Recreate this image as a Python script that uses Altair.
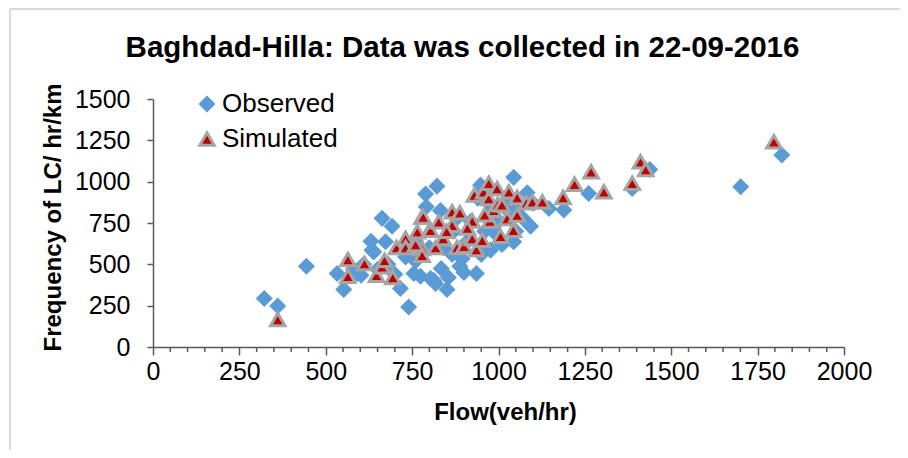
import altair as alt
import pandas as pd

series_names = ["Observed", "Simulated"]

obs_flow = [322, 361, 444, 533, 552, 591, 602, 631, 634, 639, 663, 673, 692, 716, 731,
            740, 755, 774, 760, 789, 791, 803, 812, 818, 822, 832, 834, 851, 866, 888,
            895, 910, 936, 948, 960, 977, 986, 1000, 1010, 1030, 1044, 1044, 1060, 1083,
            1093, 1100, 1146, 1189, 1261, 1387, 1438, 1701, 1820, 700, 720, 760, 800, 840,
            870, 900, 940, 980, 950, 1050, 650, 580, 610, 680, 855, 880, 920, 970, 1020, 1070]
obs_freq = [293, 248, 489, 444, 348, 444, 434, 640, 586, 575, 778, 636, 731, 354, 545,
            242, 444, 428, 520, 925, 848, 414, 404, 384, 973, 826, 475, 348, 560, 489,
            535, 640, 444, 979, 700, 586, 697, 760, 620, 820, 1026, 636, 850, 933,
            731, 870, 838, 828, 929, 959, 1074, 969, 1161, 440, 600, 640, 600, 600,
            700, 450, 900, 850, 560, 700, 470, 470, 500, 500, 420, 780, 760, 800, 880, 780]

sim_flow = [361, 564, 564, 612, 647, 663, 670, 694, 705, 731, 731, 765, 779, 779, 779,
            801, 818, 782, 803, 827, 840, 866, 866, 888, 880, 900, 924, 924, 930, 936,
            953, 957, 972, 972, 975, 986, 996, 998, 1006, 1025, 1030, 1043, 1054, 1054,
            1081, 1098, 1127, 1187, 1220, 1268, 1305, 1387, 1411, 1426, 1797, 850, 910,
            960, 1010, 760]
sim_freq = [166, 529, 428, 505, 434, 485, 525, 420, 602, 657, 602, 697, 787, 596, 555,
            711, 602, 787, 707, 757, 657, 818, 737, 812, 602, 610, 763, 657, 919, 590,
            646, 939, 990, 899, 763, 828, 959, 864, 670, 778, 939, 707, 905, 798,
            872, 878, 878, 905, 985, 1060, 939, 990, 1121, 1074, 1242, 700, 720,
            800, 860, 620]

x_ticks = [0, 250, 500, 750, 1000, 1250, 1500, 1750, 2000]
y_ticks = [0, 250, 500, 750, 1000, 1250, 1500]
minor_x = [50, 100, 150, 200, 300, 350, 400, 450, 550, 600, 650, 700,
           800, 850, 900, 950, 1050, 1100, 1150, 1200, 1300, 1350, 1400, 1450,
           1550, 1600, 1650, 1700, 1800, 1850, 1900, 1950]

FONT = "Liberation Sans"
AX = "#595959"
W, H = 691, 248

df = pd.DataFrame({
    "flow": obs_flow + sim_flow,
    "freq": obs_freq + sim_freq,
    "series": [series_names[0]] * len(obs_flow) + [series_names[1]] * len(sim_flow),
})

xscale = alt.Scale(domain=[0, 2000], nice=False)
yscale = alt.Scale(domain=[0, 1500], nice=False)

xaxis = alt.Axis(
    values=x_ticks, format="d", grid=False, domainColor=AX, domainWidth=1.5,
    tickColor=AX, tickWidth=1.5, tickSize=8, labelFontSize=25, labelFont=FONT,
    labelColor="black", labelPadding=4, labelFlush=False, labelOverlap=False,
    title="Flow(veh/hr)", titleFontSize=24, titleFont=FONT, titleFontWeight="bold",
    titleColor="black", titleX=352, titleY=65, titleBaseline="middle",
    titleAlign="center")

leg = alt.Legend(orient="none", legendX=41, legendY=-8, title=None,
                 labelFontSize=26, labelFont=FONT, labelColor="black",
                 rowPadding=9, labelOffset=2, padding=0, symbolOpacity=1)

points = alt.Chart(df).mark_point(filled=True, opacity=1).encode(
    x=alt.X("flow:Q", scale=xscale, axis=xaxis),
    y=alt.Y("freq:Q", scale=yscale, axis=alt.Axis(
        values=y_ticks, format="d", grid=False, domainColor=AX, domainWidth=1.5,
        tickColor=AX, tickWidth=1.5, tickSize=6, labelFontSize=25, labelFont=FONT,
        labelColor="black", labelPadding=17, labelFlush=False, labelOverlap=False,
        title="Frequency of LC/ hr/km", titleFontSize=24, titleFont=FONT,
        titleFontWeight="bold", titleColor="black", titleAngle=270, titleX=-100,
        titleY=118, titleBaseline="middle", titleAlign="center")),
    shape=alt.Shape("series:N", scale=alt.Scale(domain=series_names, range=["diamond", "triangle-up"]), legend=leg),
    fill=alt.Fill("series:N", scale=alt.Scale(domain=series_names, range=["#5B9BD5", "#C00000"]), legend=leg),
    stroke=alt.Stroke("series:N", scale=alt.Scale(domain=series_names, range=["#5B9BD5", "#A5A5A5"]), legend=leg),
    strokeWidth=alt.StrokeWidth("series:N", scale=alt.Scale(domain=series_names, range=[0, 3]), legend=leg),
    size=alt.Size("series:N", scale=alt.Scale(domain=series_names, range=[290, 210]), legend=leg),
)

minor = alt.Chart(pd.DataFrame({"m": minor_x})).mark_rule(color=AX, strokeWidth=1.5).encode(
    x=alt.X("m:Q", scale=xscale, axis=xaxis),
    y=alt.value(H),
    y2=alt.value(H + 5),
)

frame_df = pd.DataFrame({"a": [0]})
frame_left = alt.Chart(frame_df).mark_rule(color="#D9D9D9", strokeWidth=2).encode(
    x=alt.value(-143), y=alt.value(-90), y2=alt.value(360))
frame_top = alt.Chart(frame_df).mark_rule(color="#D9D9D9", strokeWidth=2).encode(
    x=alt.value(-143), x2=alt.value(760), y=alt.value(-90))

chart = alt.layer(points, minor, frame_left, frame_top).properties(
    width=W, height=H,
    autosize=alt.AutoSizeParams(type="none"),
    padding={"left": 145, "top": 91, "right": 56, "bottom": 103},
    title=alt.Title("Baghdad-Hilla: Data was collected in 22-09-2016", fontSize=29.5,
                    font=FONT, fontWeight="bold", color="black", dx=-36, dy=78,
                    offset=0, baseline="alphabetic"),
).configure(background="white").configure_view(stroke="transparent", strokeWidth=0)

chart.save("out.html", embed_options={"renderer": "svg", "actions": False})
